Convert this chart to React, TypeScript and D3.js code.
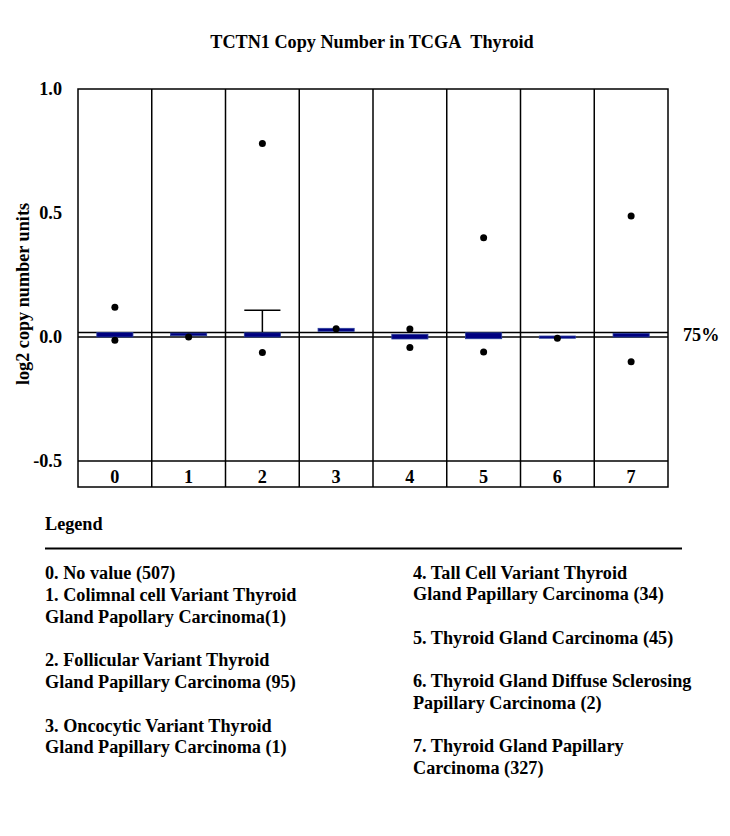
import React from "react";
import * as d3 from "d3";

const categories = ["0", "1", "2", "3", "4", "5", "6", "7"];
const boxLow = [0.0, 0.005, 0.0, 0.023, -0.008, -0.007, -0.005, 0.0];
const boxHigh = [0.018, 0.016, 0.017, 0.035, 0.011, 0.017, 0.004, 0.015];
const whiskerHigh: (number | null)[] = [null, null, 0.108, null, null, null, null, null];
const outliers: number[][] = [
  [0.12, -0.013],
  [0.0],
  [0.78, -0.062],
  [0.033],
  [0.032, -0.042],
  [0.4, -0.06],
  [-0.005],
  [0.488, -0.1],
];
const yTicks = [1.0, 0.5, 0.0, -0.5];
const yTickLabels = ["1.0", "0.5", "0.0", "-0.5"];
const refLineValue = 0.018;
const refLineLabel = "75%";
const title = "TCTN1 Copy Number in TCGA\u00A0\u00A0Thyroid";
const yLabel = "log2 copy number units";
const legendLeft = [
  ["0. No value (507)"],
  ["1. Colimnal cell Variant Thyroid", "Gland Papollary Carcinoma(1)"],
  ["2. Follicular Variant Thyroid", "Gland Papillary Carcinoma (95)"],
  ["3. Oncocytic Variant Thyroid", "Gland Papillary Carcinoma (1)"],
];
const legendRight = [
  ["4. Tall Cell Variant Thyroid", "Gland Papillary Carcinoma (34)"],
  ["5. Thyroid Gland Carcinoma (45)"],
  ["6. Thyroid Gland Diffuse Sclerosing", "Papillary Carcinoma (2)"],
  ["7. Thyroid Gland Papillary", "Carcinoma (327)"],
];

const W = 730;
const H = 836;
const left = 78;
const right = 668;
const top = 89;
const plotBottom = 461;
const labelBottom = 487;
const font = "'Liberation Serif', 'Times New Roman', serif";
const fs = 18.2;

export default function App() {
  const x = d3.scaleBand<string>().domain(categories).range([left, right]).padding(0);
  const y = d3.scaleLinear().domain([-0.5, 1.0]).range([plotBottom, top]);
  const bw = x.bandwidth();
  const boxW = bw * 0.49;

  const leftY = [578.5, 600.5, 622.5, 666, 687.5, 731.5, 753];
  const rightY = [578.5, 600, 643.5, 686.5, 708.5, 751.5, 773.5];
  const flatLeft = legendLeft.flat();
  const flatRight = legendRight.flat();

  return (
    <svg
      width={W}
      height={H}
      style={{ position: "absolute", left: 0, top: 0, background: "#fff" }}
      fontFamily={font}
      fontWeight="bold"
    >
      <rect x={0} y={0} width={W} height={H} fill="#fff" />
      <text x={372} y={48} textAnchor="middle" fontSize={fs}>
        {title}
      </text>
      <text
        transform={`translate(29,294) rotate(-90)`}
        textAnchor="middle"
        fontSize={fs}
      >
        {yLabel}
      </text>
      {yTicks.map((t, i) => (
        <text key={t} x={62} y={y(t) + 5.5} textAnchor="end" fontSize={fs}>
          {yTickLabels[i]}
        </text>
      ))}

      {/* reference lines */}
      <line x1={left} x2={right} y1={y(0)} y2={y(0)} stroke="#000" strokeWidth={1.5} />
      <line x1={left} x2={right} y1={y(refLineValue)} y2={y(refLineValue)} stroke="#000" strokeWidth={1.5} />
      <text x={683} y={341} fontSize={fs}>
        {refLineLabel}
      </text>

      {/* whiskers */}
      {categories.map((c, i) => {
        const wh = whiskerHigh[i];
        if (wh == null) return null;
        const cx = x(c)! + bw / 2;
        return (
          <g key={"w" + c}>
            <line x1={cx} x2={cx} y1={y(boxHigh[i])} y2={y(wh)} stroke="#000" strokeWidth={1.5} />
            <line x1={cx - boxW / 2} x2={cx + boxW / 2} y1={y(wh)} y2={y(wh)} stroke="#000" strokeWidth={1.5} />
          </g>
        );
      })}

      {/* boxes */}
      {categories.map((c, i) => {
        const cx = x(c)! + bw / 2;
        const y1 = y(boxHigh[i]);
        const y2 = y(boxLow[i]);
        return (
          <rect
            key={"b" + c}
            x={cx - boxW / 2}
            y={y1}
            width={boxW}
            height={Math.max(2, y2 - y1)}
            fill="#000080"
            stroke="#2a3f9a"
            strokeWidth={0.8}
          />
        );
      })}

      {/* outliers */}
      {categories.map((c, i) =>
        outliers[i].map((v, j) => (
          <circle key={`o${c}-${j}`} cx={x(c)! + bw / 2} cy={y(v)} r={3.5} fill="#000" />
        ))
      )}

      {/* frame */}
      <rect x={left} y={top} width={right - left} height={labelBottom - top} fill="none" stroke="#000" strokeWidth={1.5} />
      <line x1={left} x2={right} y1={plotBottom} y2={plotBottom} stroke="#000" strokeWidth={1.5} />
      {categories.slice(1).map((c) => (
        <line key={"v" + c} x1={x(c)!} x2={x(c)!} y1={top} y2={labelBottom} stroke="#000" strokeWidth={1.5} />
      ))}
      {categories.map((c) => (
        <text key={"l" + c} x={x(c)! + bw / 2} y={483} textAnchor="middle" fontSize={fs}>
          {c}
        </text>
      ))}

      {/* legend */}
      <text x={45} y={530} fontSize={fs}>
        Legend
      </text>
      <line x1={45} x2={682} y1={548.5} y2={548.5} stroke="#000" strokeWidth={2} />
      {flatLeft.map((t, i) => (
        <text key={"ll" + i} x={45} y={leftY[i]} fontSize={fs}>
          {t}
        </text>
      ))}
      {flatRight.map((t, i) => (
        <text key={"lr" + i} x={413} y={rightY[i]} fontSize={fs}>
          {t}
        </text>
      ))}
    </svg>
  );
}
